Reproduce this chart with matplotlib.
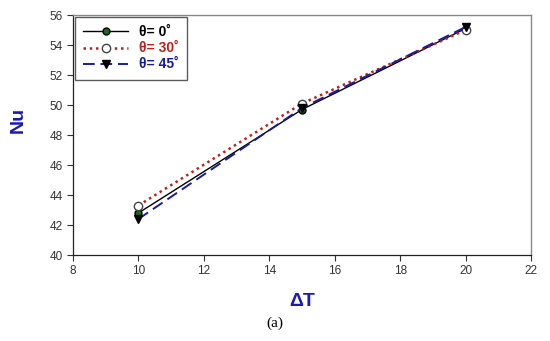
import matplotlib
matplotlib.use("Agg")
import matplotlib.pyplot as plt

dT = [10, 15, 20]
nu_0 = [42.8, 49.7, 55.1]
nu_30 = [43.3, 50.1, 55.0]
nu_45 = [42.4, 49.8, 55.2]
xticks = [8, 10, 12, 14, 16, 18, 20, 22]
yticks = [40, 42, 44, 46, 48, 50, 52, 54, 56]

plt.rcParams['font.family'] = ['Liberation Sans', 'DejaVu Sans']
fig = plt.figure(figsize=(5.5, 3.41), dpi=100)
ax = fig.add_axes([73/550, 1-255/341, (531-73)/550, (255-15)/341])

ax.plot(dT, nu_0, color='black', lw=1.0, ls='-', marker='o', ms=5,
        mfc='#1a6b1a', mec='black', label='θ= 0˚')
ax.plot(dT, nu_30, color='#c0201a', lw=1.8, ls=(0, (1, 1.5)), marker='o', ms=6,
        mfc='white', mec='#444444', label='θ= 30˚')
ax.plot(dT, nu_45, color='#1a1aa0', lw=1.4, ls=(0, (6, 3)), marker='v', ms=6,
        mfc='black', mec='black', label='θ= 45˚')

ax.set_xlim(8, 22)
ax.set_ylim(40, 56)
ax.set_xticks(xticks)
ax.set_yticks(yticks)
ax.tick_params(direction='out', length=4, width=0.8, labelsize=8.5, colors='#333333',
               top=False, right=False)
for s in ['left', 'bottom']:
    ax.spines[s].set_color('#222222')
    ax.spines[s].set_linewidth(0.9)
for s in ['top', 'right']:
    ax.spines[s].set_color('#888888')
    ax.spines[s].set_linewidth(1.0)

ax.set_xlabel('ΔT', color='#1a1ab4', fontsize=14, fontweight='bold')
ax.xaxis.set_label_coords(0.5, -(293-255)/240, transform=ax.transAxes)
ax.set_ylabel('Nu', color='#1a1ab4', fontsize=14, fontweight='bold')
ax.yaxis.set_label_coords(-(73-27)/458, (255-120)/240, transform=ax.transAxes)

leg = ax.legend(loc='upper left', bbox_to_anchor=(2/458, 1-2/240), borderaxespad=0,
                frameon=True, fancybox=False, edgecolor='#333333', handlelength=3.2,
                handletextpad=0.8, borderpad=0.6, labelspacing=0.15,
                prop={'weight': 'bold', 'size': 10})
leg.get_frame().set_linewidth(1.0)
cols = ['black', '#c0201a', '#1a1aa0']
for t, c in zip(leg.get_texts(), cols):
    t.set_color(c)

fig.text(0.5, 1-323/341, '(a)', ha='center', va='center', fontsize=11,
         family='Liberation Serif')

fig.savefig('out.png', dpi=100)
